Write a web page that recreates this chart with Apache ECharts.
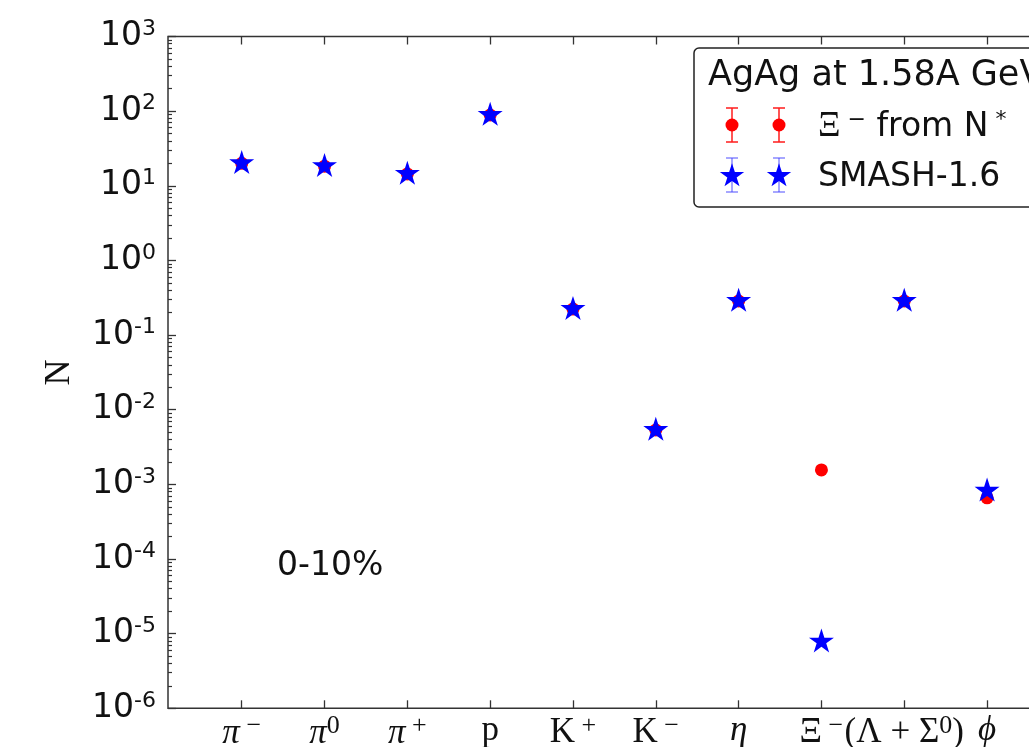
<!DOCTYPE html>
<html><head><meta charset="utf-8">
<script src="https://cdn.jsdelivr.net/npm/echarts@6/dist/echarts.min.js"></script>
<style>html,body{margin:0;padding:0;background:#fff}#c{width:1029px;height:747px}</style>
</head><body><div id="c"></div>
<script>
// ---- data ----
const categories = ['π⁻', 'π⁰', 'π⁺', 'p', 'K⁺', 'K⁻', 'η', 'Ξ⁻', '(Λ+Σ⁰)', 'ϕ'];
const smashValues = [20.0, 18.3, 14.4, 88.8, 0.223, 0.00535, 0.286, 7.8e-6, 0.286, 8.2e-4];
const xiFromNstarValues = [20.0, 18.3, 14.4, 88.8, 0.223, 0.00535, 0.286, 1.56e-3, 0.286, 6.6e-4];
const yTickExponents = [-6, -5, -4, -3, -2, -1, 0, 1, 2, 3];
const seriesNames = ['Ξ⁻ from N*', 'SMASH-1.6'];
const legendTitle = 'AgAg at 1.58A GeV';
const centralityText = '0-10%';
const yAxisName = 'N';

// ---- label formatting (rich text for math-like labels) ----
const catRich = {
  'π⁻': '{i|π}{s| −}', 'π⁰': '{i|π}{s|0}', 'π⁺': '{i|π}{s| +}', 'p': '{r|p}',
  'K⁺': '{r|K}{s| +}', 'K⁻': '{r|K}{s| −}', 'η': '{i|η}', 'Ξ⁻': '{r|Ξ}{s| −}',
  '(Λ+Σ⁰)': '{r|(Λ + Σ}{s|0}{r|)}', 'ϕ': '{i|ϕ}'
};
const xPos = categories.map((c, i) => i + 1);
const minorLogTicks = [];
for (let n = yTickExponents[0]; n < yTickExponents[yTickExponents.length - 1]; n++) {
  for (let k = 2; k <= 9; k++) minorLogTicks.push(n + Math.log10(k));
}
// star symbol like matplotlib '*'
function starPoints(cx, cy, R) {
  const pts = [];
  for (let k = 0; k < 10; k++) {
    const r = k % 2 ? R * 0.381966 : R;
    const a = (-90 + 36 * k) * Math.PI / 180;
    pts.push([cx + r * Math.cos(a), cy + r * Math.sin(a)]);
  }
  return pts;
}
const starPath = 'path://M' + starPoints(0, 0, 100).map(p => p[0].toFixed(2) + ' ' + p[1].toFixed(2)).join(' L') + ' Z';

const serif = '"Liberation Serif", "DejaVu Serif", serif';
const sans = '"DejaVu Sans", sans-serif';

const chart = echarts.init(document.getElementById('c'), null, { renderer: 'canvas' });

function legendRow(y, kind) {
  const els = [];
  const xs = [732, 779];
  const barColor = kind === 'red' ? 'rgba(255,30,30,0.95)' : 'rgba(70,70,255,0.6)';
  xs.forEach(x => {
    els.push({ type: 'line', shape: { x1: x, y1: y - 17, x2: x, y2: y + 17 }, style: { stroke: barColor, lineWidth: 1.6 }, z: 101 });
    els.push({ type: 'line', shape: { x1: x - 6, y1: y - 17, x2: x + 6, y2: y - 17 }, style: { stroke: barColor, lineWidth: 1.6 }, z: 101 });
    els.push({ type: 'line', shape: { x1: x - 6, y1: y + 17, x2: x + 6, y2: y + 17 }, style: { stroke: barColor, lineWidth: 1.6 }, z: 101 });
    if (kind === 'red') {
      els.push({ type: 'circle', shape: { cx: x, cy: y, r: 6.5 }, style: { fill: '#ff0000' }, z: 102 });
    } else {
      els.push({ type: 'polygon', shape: { points: starPoints(x, y + 1, 12.8) }, style: { fill: '#0000ff' }, z: 102 });
    }
  });
  return els;
}

const xAxisCommon = {
  type: 'value', min: 0.11, max: 11.11,
  axisLine: { show: false, onZero: false }, splitLine: { show: false },
  axisTick: { show: true, inside: true, length: 8, customValues: xPos, lineStyle: { color: '#333', width: 1.3 } }
};

const option = {
  animation: false,
  backgroundColor: '#fff',
  grid: {
    left: 168, right: -50, top: 36.5, bottom: 38.7,
    show: true, borderColor: '#333', borderWidth: 1.5, backgroundColor: 'transparent',
    containLabel: false, outerBoundsMode: 'none'
  },
  xAxis: [Object.assign({}, xAxisCommon, {
    position: 'bottom',
    axisLabel: {
      customValues: xPos, margin: 5, color: '#111',
      formatter: v => catRich[categories[Math.round(v) - 1]],
      rich: {
        i: { fontFamily: serif, fontStyle: 'italic', fontSize: 35, color: '#111' },
        r: { fontFamily: serif, fontSize: 35, color: '#111' },
        s: { fontFamily: serif, fontSize: 26, color: '#111', padding: [0, 0, 14, 0], verticalAlign: 'bottom' }
      }
    }
  }), Object.assign({}, xAxisCommon, {
    position: 'top',
    axisLabel: { show: false }
  })],
  yAxis: [{
    type: 'log', logBase: 10, min: 1e-6, max: 1e3, interval: 1, splitNumber: 9, position: 'left',
    name: yAxisName, nameLocation: 'middle', nameRotate: 90, nameGap: 90,
    nameTextStyle: { fontFamily: serif, fontSize: 36, color: '#111' },
    axisLine: { show: false, onZero: false }, splitLine: { show: false }, minorTick: { show: false },
    axisTick: { show: true, inside: true, length: 8, lineStyle: { color: '#333', width: 1.3 } },
    axisLabel: {
      margin: 12, color: '#111',
      formatter: v => '{b|10}{s|' + Math.round(Math.log10(v)) + '}',
      rich: {
        b: { fontFamily: sans, fontSize: 33, color: '#111' },
        s: { fontFamily: sans, fontSize: 22, color: '#111', padding: [0, 0, 15, 0], verticalAlign: 'bottom' }
      }
    }
  }, {
    type: 'value', min: yTickExponents[0], max: yTickExponents[yTickExponents.length - 1], position: 'left',
    axisLine: { show: false, onZero: false }, splitLine: { show: false }, axisLabel: { show: false },
    axisTick: { show: true, inside: true, length: 4, customValues: minorLogTicks, lineStyle: { color: '#333', width: 1.2 } }
  }],
  series: [{
    name: seriesNames[0], type: 'scatter', xAxisIndex: 0, yAxisIndex: 0,
    symbol: 'circle', symbolSize: 13, itemStyle: { color: '#ff0000', opacity: 1 }, z: 2,
    data: xiFromNstarValues.map((v, i) => [xPos[i], v])
  }, {
    name: seriesNames[1], type: 'scatter', xAxisIndex: 0, yAxisIndex: 0,
    symbol: starPath, symbolSize: [25, 24], symbolOffset: [0, -1.2], itemStyle: { color: '#0000ff', opacity: 1 }, z: 3,
    data: smashValues.map((v, i) => [xPos[i], v])
  }],
  graphic: [
    { type: 'rect', shape: { x: 694, y: 48, width: 420, height: 159, r: 5 }, style: { fill: '#fff', stroke: '#222', lineWidth: 1.5 }, z: 100 },
    { type: 'text', x: 708, y: 76, style: { text: legendTitle, font: '35px ' + sans, fill: '#111', verticalAlign: 'middle' }, z: 101 },
    ...legendRow(125, 'red'),
    ...legendRow(175, 'blue'),
    { type: 'text', x: 818, y: 127, style: {
        text: '{x|Ξ}{s| −}{t| from N}{s| *}', verticalAlign: 'middle',
        rich: {
          x: { fontFamily: serif, fontSize: 35, fill: '#111' },
          t: { fontFamily: sans, fontSize: 33, fill: '#111' },
          s: { fontFamily: sans, fontSize: 22, fill: '#111', padding: [0, 0, 14, 0], verticalAlign: 'bottom' }
        } }, z: 101 },
    { type: 'text', x: 818, y: 177, style: { text: seriesNames[1], font: '33px ' + sans, fill: '#111', verticalAlign: 'middle' }, z: 101 },
    { type: 'text', x: 277, y: 566, style: { text: centralityText, font: '33px ' + sans, fill: '#111', verticalAlign: 'middle' }, z: 50 }
  ]
};
chart.setOption(option);
</script></body></html>
